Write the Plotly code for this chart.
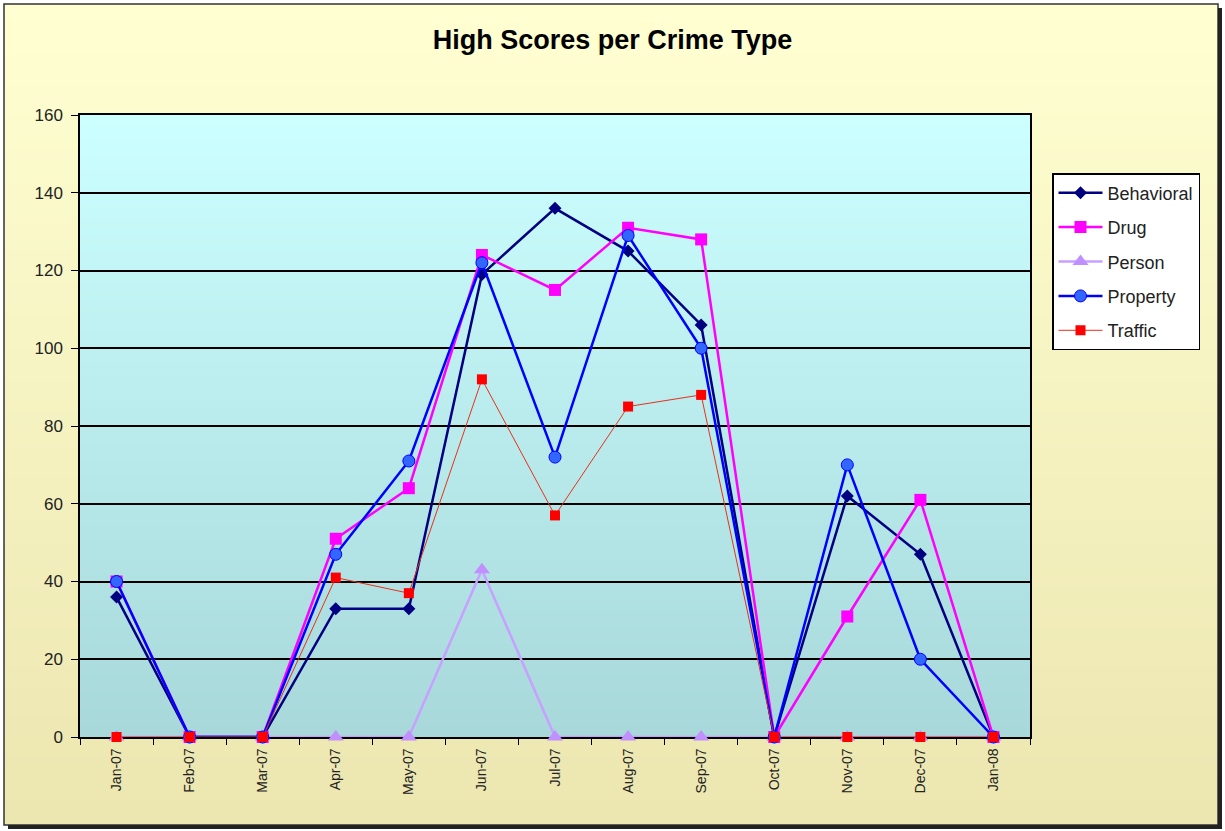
import base64, struct, zlib
import plotly.graph_objects as go

months = ["Jan-07", "Feb-07", "Mar-07", "Apr-07", "May-07", "Jun-07", "Jul-07",
          "Aug-07", "Sep-07", "Oct-07", "Nov-07", "Dec-07", "Jan-08"]
behavioral = [36, 0, 0, 33, 33, 119, 136, 125, 106, 0, 62, 47, 0]
drug = [40, 0, 0, 51, 64, 124, 115, 131, 128, 0, 31, 61, 0]
person = [0, 0, 0, 0, 0, 43, 0, 0, 0, 0, 0, 0, 0]
prop = [40, 0, 0, 47, 71, 122, 72, 129, 100, 0, 70, 20, 0]
traffic = [0, 0, 0, 41, 37, 92, 57, 85, 88, 0, 0, 0, 0]
y_ticks = [0, 20, 40, 60, 80, 100, 120, 140, 160]

W, H = 1225, 831
L, R, T, B = 80, 1030, 115, 737


def png_gradient(top, bottom, h=256):
    raw = b""
    for i in range(h):
        t = i / (h - 1)
        c = bytes(int(round(top[k] + (bottom[k] - top[k]) * t)) for k in range(3))
        raw += b"\x00" + c
    def chunk(tag, data):
        return struct.pack(">I", len(data)) + tag + data + struct.pack(">I", zlib.crc32(tag + data) & 0xffffffff)
    png = b"\x89PNG\r\n\x1a\n" + chunk(b"IHDR", struct.pack(">IIBBBBB", 1, h, 8, 2, 0, 0, 0))
    png += chunk(b"IDAT", zlib.compress(raw)) + chunk(b"IEND", b"")
    return "data:image/png;base64," + base64.b64encode(png).decode()


def px(x):
    return (x - L) / (R - L)


def py(y):
    return (B - y) / (B - T)


fig = go.Figure()
specs = [
    ("Behavioral", behavioral, "#000080", "diamond", 10, 2.5, None),
    ("Drug", drug, "#FF00FF", "square", 12, 2.5, None),
    ("Person", person, "#C8A0FF", "triangle-up", 14, 2.5, "#C090FF"),
    ("Property", prop, "#0000FF", "circle", 12, 2.5, "#3366FF"),
    ("Traffic", traffic, "#E8301A", "square", 10, 1, "#FF0000"),
]
for name, vals, col, sym, size, lw, mfill in specs:
    fig.add_trace(go.Scatter(
        x=months, y=vals, name=name, mode="lines+markers", legendgroup=name,
        cliponaxis=False,
        line=dict(color=col, width=lw),
        marker=dict(symbol=sym, size=size, color=mfill or col,
                    line=dict(width=1 if name == "Property" else 0, color=col)),
    ))

fig.update_layout(
    width=W, height=H,
    margin=dict(l=L, r=W - R, t=T, b=H - B),
    paper_bgcolor="white",
    plot_bgcolor="rgba(0,0,0,0)",
    font=dict(family="Liberation Sans, Arial, sans-serif", color="black"),
    title=dict(text="<b>High Scores per Crime Type</b>", x=0.5, xanchor="center",
               y=1 - 40 / H, yanchor="middle", font=dict(size=27, color="black")),
    xaxis=dict(type="category", categoryorder="array", categoryarray=months,
               tickangle=-90, tickfont=dict(size=14, color="#222222"), showgrid=False,
               showline=True, linecolor="black", linewidth=1.5, mirror=True,
               ticks="outside", ticklen=6, tickson="boundaries", tickcolor="black",
               range=[-0.5, 12.5], layer="below traces", ticklabelstandoff=4),
    yaxis=dict(range=[0, 160], tickvals=y_ticks, tickfont=dict(size=17, color="#222222"),
               showgrid=True, gridcolor="black", gridwidth=1.5,
               showline=True, linecolor="black", linewidth=1.5, mirror=True,
               ticks="outside", ticklen=7, tickcolor="black", zeroline=False,
               ticklabelstandoff=5, layer="below traces"),
    legend=dict(x=px(1052), y=py(173), xanchor="left", yanchor="top",
                bgcolor="white", bordercolor="black", borderwidth=1.5,
                font=dict(size=18, color="#222222"), tracegroupgap=8,
                traceorder="grouped", itemwidth=44),
    images=[
        dict(source=png_gradient((255, 255, 210), (236, 230, 176)), xref="paper", yref="paper",
             x=px(4), y=py(4), sizex=(1218 - 4) / (R - L), sizey=(825 - 4) / (B - T),
             sizing="stretch", layer="below", xanchor="left", yanchor="top"),
        dict(source=png_gradient((204, 255, 255), (168, 216, 218)), xref="paper", yref="paper",
             x=0, y=1, sizex=1, sizey=1,
             sizing="stretch", layer="below", xanchor="left", yanchor="top"),
    ],
    shapes=[
        dict(type="rect", xref="paper", yref="paper", x0=px(4), y0=py(4), x1=px(1218), y1=py(825),
             line=dict(color="#333333", width=1.5), fillcolor="rgba(0,0,0,0)", layer="above"),
        dict(type="rect", xref="paper", yref="paper", x0=px(1218), y0=py(8), x1=px(1222), y1=py(829),
             line=dict(width=0), fillcolor="#222222", layer="above"),
        dict(type="rect", xref="paper", yref="paper", x0=px(8), y0=py(825), x1=px(1222), y1=py(829),
             line=dict(width=0), fillcolor="#222222", layer="above"),
    ],
)

fig.write_html("out.html", config={"displayModeBar": False},
               post_script="document.body.style.margin='0px';document.body.style.overflow='hidden';")
